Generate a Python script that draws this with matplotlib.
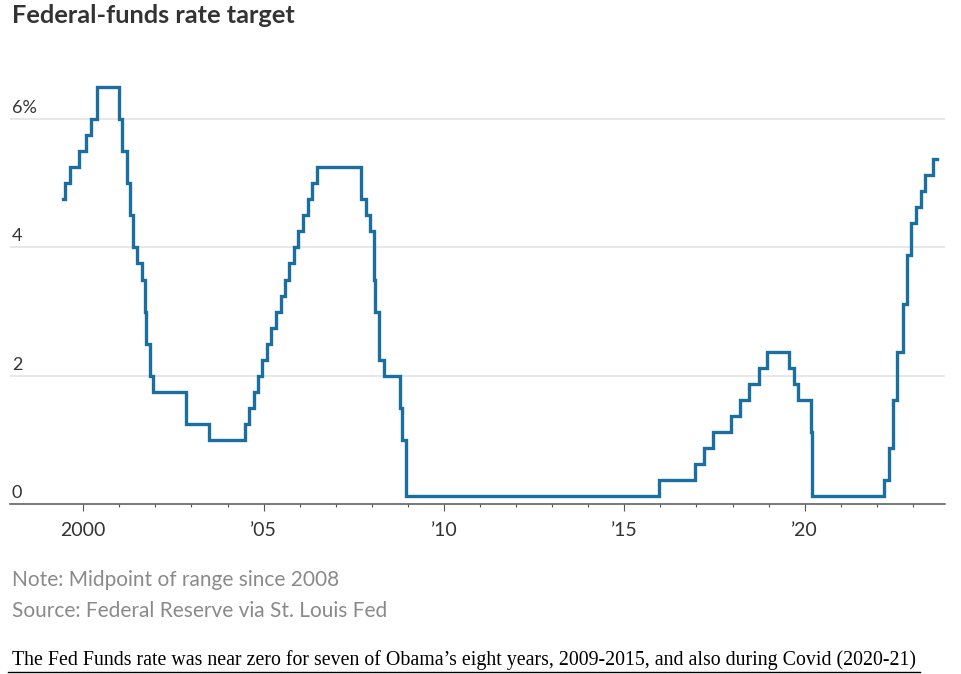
import pandas as pd
import matplotlib
matplotlib.use("Agg")
import matplotlib.pyplot as plt
from matplotlib.ticker import FixedLocator

# fed funds target (midpoint of range since 2008), dates of each change
change_dates = [
    "1999-06-15", "1999-06-30", "1999-08-24", "1999-11-16", "2000-02-02", "2000-03-21",
    "2000-05-16", "2001-01-03", "2001-01-31", "2001-03-20", "2001-04-18", "2001-05-15",
    "2001-06-27", "2001-08-21", "2001-09-17", "2001-10-02", "2001-11-06", "2001-12-11",
    "2002-11-06", "2003-06-25", "2004-06-30", "2004-08-10", "2004-09-21", "2004-11-10",
    "2004-12-14", "2005-02-02", "2005-03-22", "2005-05-03", "2005-06-30", "2005-08-09",
    "2005-09-20", "2005-11-01", "2005-12-13", "2006-01-31", "2006-03-28", "2006-05-10",
    "2006-06-29", "2007-09-18", "2007-10-31", "2007-12-11", "2008-01-22", "2008-01-30",
    "2008-03-18", "2008-04-30", "2008-10-08", "2008-10-29", "2008-12-16", "2015-12-16",
    "2016-12-14", "2017-03-15", "2017-06-14", "2017-12-13", "2018-03-21", "2018-06-13",
    "2018-09-26", "2018-12-19", "2019-07-31", "2019-09-18", "2019-10-30", "2020-03-03",
    "2020-03-15", "2022-03-16", "2022-05-04", "2022-06-15", "2022-07-27", "2022-09-21",
    "2022-11-02", "2022-12-14", "2023-02-01", "2023-03-22", "2023-05-03", "2023-07-26",
]
rates = [
    4.75, 5.0, 5.25, 5.5, 5.75, 6.0,
    6.5, 6.0, 5.5, 5.0, 4.5, 4.0,
    3.75, 3.5, 3.0, 2.5, 2.0, 1.75,
    1.25, 1.0, 1.25, 1.5, 1.75, 2.0,
    2.25, 2.5, 2.75, 3.0, 3.25, 3.5,
    3.75, 4.0, 4.25, 4.5, 4.75, 5.0,
    5.25, 4.75, 4.5, 4.25, 3.5, 3.0,
    2.25, 2.0, 1.5, 1.0, 0.125, 0.375,
    0.625, 0.875, 1.125, 1.375, 1.625, 1.875,
    2.125, 2.375, 2.125, 1.875, 1.625, 1.125,
    0.125, 0.375, 0.875, 1.625, 2.375, 3.125,
    3.875, 4.375, 4.625, 4.875, 5.125, 5.375,
]
end_date = "2023-09-01"

y_ticks = [0, 2, 4, 6]
y_labels = ["0", "2", "4", "6%"]
x_major = [2000, 2005, 2010, 2015, 2020]
x_labels = ["2000", "\u201905", "\u201910", "\u201915", "\u201920"]
x_minor = [y for y in range(2001, 2024) if y % 5 != 0]

title = "Federal-funds rate target"
note = "Note: Midpoint of range since 2008"
source = "Source: Federal Reserve via St. Louis Fed"
caption = ("The Fed Funds rate was near zero for seven of Obama\u2019s eight years, "
           "2009-2015, and also during Covid (2020-21)")


def to_year(s):
    d = pd.Timestamp(s)
    start = pd.Timestamp(year=d.year, month=1, day=1)
    end = pd.Timestamp(year=d.year + 1, month=1, day=1)
    return d.year + (d - start) / (end - start)


x = [to_year(d) for d in change_dates] + [to_year(end_date)]
y = rates + [rates[-1]]

sans = ["Lato", "DejaVu Sans"]
blue = "#1a6ea0"

fig = plt.figure(figsize=(9.61, 6.74), dpi=100)
ax = fig.add_axes([10 / 961, 170 / 674, 935 / 961, 449 / 674])

ax.step(x, y, where="post", color=blue, lw=2.4, solid_joinstyle="miter", zorder=3)

ax.set_xlim(1997.97, 2023.89)
ax.set_ylim(0, 7.0)

for v in y_ticks[1:]:
    ax.axhline(v, color="#e2e2e2", lw=1.1, zorder=1)
for v, lab in zip(y_ticks, y_labels):
    ax.annotate(lab, xy=(0, v), xycoords=("axes fraction", "data"),
                xytext=(2, 6), textcoords="offset pixels", va="baseline",
                ha="left", fontsize=13, color="#333333", family=sans)

for s in ["top", "left", "right"]:
    ax.spines[s].set_visible(False)
ax.spines["bottom"].set_color("#555555")
ax.spines["bottom"].set_linewidth(1.1)

ax.set_yticks([])
ax.xaxis.set_major_locator(FixedLocator(x_major))
ax.xaxis.set_minor_locator(FixedLocator(x_minor))
ax.set_xticklabels(x_labels, family=sans, fontsize=14, color="#333333")
ax.tick_params(axis="x", which="major", length=5, width=0.8, color="#555555", pad=8)
ax.tick_params(axis="x", which="minor", length=2.2, width=0.8, color="#555555")

fig.text(12 / 961, 1 - 22.7 / 674, title, family=sans, fontweight="bold",
         fontsize=18.3, color="#333333", va="baseline")
fig.text(12 / 961, 1 - 586 / 674, note, family=sans, fontsize=15,
         color="#8a8a8a", va="baseline")
fig.text(12 / 961, 1 - 617 / 674, source, family=sans, fontsize=15,
         color="#8a8a8a", va="baseline")
fig.text(12 / 961, 1 - 665 / 674, caption, family=["Liberation Serif", "DejaVu Serif"],
         fontsize=14.3, color="black", va="baseline")
fig.add_artist(plt.Line2D([8 / 961, 920 / 961], [1 - 672 / 674, 1 - 672 / 674],
                          transform=fig.transFigure, color="black", lw=1.0))

fig.savefig("out.png", dpi=100)
